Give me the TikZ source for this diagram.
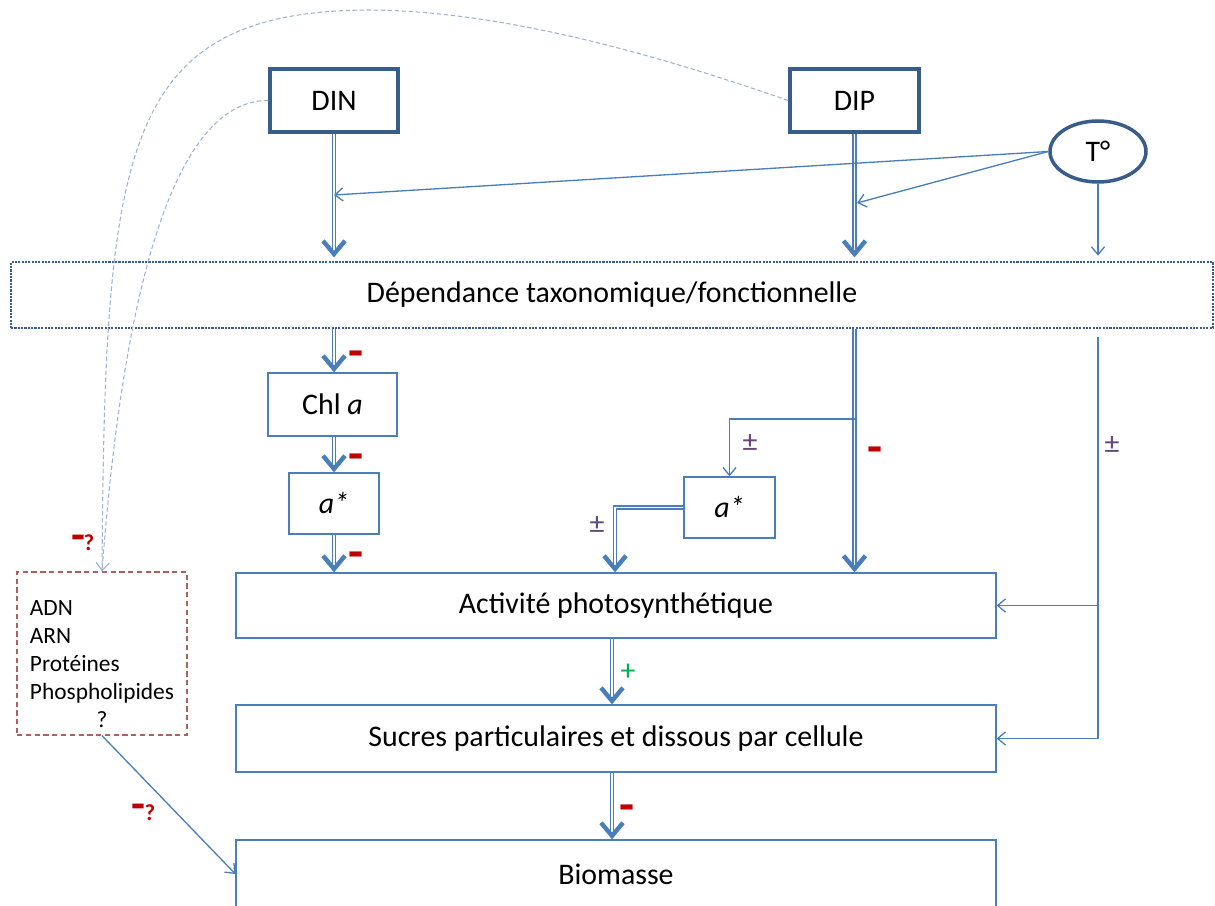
\documentclass[tikz,border=0pt]{standalone}
\usepackage{fontspec}
\setmainfont{Carlito}
\usetikzlibrary{arrows.meta,shapes.geometric,decorations.markings,calc}
\definecolor{dkblue}{HTML}{385D8A}
\definecolor{ln}{HTML}{4A7EBB}
\definecolor{curv}{HTML}{9FB2D2}
\definecolor{rbox}{HTML}{B0605C}
\definecolor{sred}{HTML}{C00000}
\definecolor{spurp}{HTML}{604A7B}
\definecolor{sgreen}{HTML}{00B050}
\begin{document}
\begin{tikzpicture}[x=0.02cm,y=-0.02cm,
  mainfont/.style={font=\fontsize{17}{20}\selectfont},
  thickbox/.style={draw=dkblue,line width=2pt,fill=white,inner sep=0pt,mainfont},
  thinbox/.style={draw=ln,line width=0.75pt,fill=white,inner sep=0pt,mainfont},
  dbl/.style={draw=ln,line width=0.6pt,double=white,double distance=1.1pt,shorten >=1.5pt},
  bigtip/.style={postaction={decorate,decoration={markings,mark=at position 1 with {\arrow[ln]{Straight Barb[length=7.5pt,width=12.5pt,line width=2.5pt]}}}}},
  thinln/.style={draw=ln,line width=0.75pt},
  opentip/.style={-{Straight Barb[length=4.5pt,width=7.5pt,line width=0.75pt]}},
  dashcurve/.style={draw=curv,line width=0.6pt,dash pattern=on 2.5pt off 1.5pt},
  minussign/.style={text=sred,font=\fontsize{28}{28}\bfseries\selectfont,inner sep=0pt},
  smallminus/.style={text=sred,font=\fontsize{26}{26}\bfseries\selectfont,inner sep=0pt},
  qsign/.style={text=sred,font=\fontsize{13}{13}\bfseries\selectfont,inner sep=0pt},
  pmsign/.style={text=spurp,font=\fontsize{17}{17}\selectfont,inner sep=0pt},
  plussign/.style={text=sgreen,font=\fontsize{17}{17}\selectfont,inner sep=0pt}
]
\useasboundingbox (0,0) rectangle (1215,906);
\fill[white] (0,0) rectangle (1215,906);

% helper coordinates
\coordinate (dinT) at (334,195);
\coordinate (dipT) at (857,203);
\coordinate (brY) at (0,419);
\coordinate (amx) at (615,0);
\coordinate (midx) at (612,0);
\coordinate (rY) at (0,337);

% nodes
\node[thickbox,minimum width=2.56cm,minimum height=1.26cm] (din) at (334,100.5) {DIN};
\node[thickbox,minimum width=2.58cm,minimum height=1.26cm] (dip) at (854.5,100.5) {DIP};
\node[ellipse,draw=dkblue,line width=2pt,fill=white,minimum width=1.92cm,minimum height=1.22cm,inner sep=0pt,mainfont] (temp) at (1098,151.5) {T°};
\node[draw=dkblue,line width=1.2pt,dash pattern=on 1.2pt off 0.7pt,minimum width=24.04cm,minimum height=1.32cm,inner sep=0pt,mainfont] (dep) at (612,295) {Dépendance taxonomique/fonctionnelle};
\node[thinbox,minimum width=2.58cm,minimum height=1.26cm] (chl) at (332.5,404.5) {Chl \textit{a}};
\node[thinbox,minimum width=1.8cm,minimum height=1.22cm] (asl) at (334,503.5) {\textit{a*}};
\node[thinbox,minimum width=1.82cm,minimum height=1.22cm] (asm) at (729.5,507.5) {\textit{a*}};
\node[thinbox,minimum width=15.2cm,minimum height=1.3cm] (act) at (616,605.5) {Activité photosynthétique};
\node[thinbox,minimum width=15.2cm,minimum height=1.34cm] (suc) at (616,738.5) {Sucres particulaires et dissous par cellule};
\node[thinbox,minimum width=15.2cm,minimum height=1.36cm] (bio) at (616,874) {Biomasse};
\node[draw=rbox,line width=0.75pt,dash pattern=on 3pt off 2pt,minimum width=3.4cm,minimum height=3.26cm,inner sep=0pt] (lbox) at (102,653.5) {};
\node[inner sep=0pt,font=\fontsize{13.3}{16}\selectfont] (ltext) at (102,666) {\begin{tabular}{@{}l@{}}ADN\\ARN\\Protéines\\Phospholipides\\\multicolumn{1}{@{}c@{}}{?}\end{tabular}};

% dashed curves to left box
\draw[dashcurve] (dip.west) .. controls (700,70) and (520,10) .. (367,10) .. controls (120,12) and (105,150) .. (lbox.north);
\draw[dashcurve,-{Straight Barb[length=4.5pt,width=7.5pt,line width=0.6pt]}] (din.west) .. controls (200,100) and (130,200) .. (lbox.north);

% top arrows
\draw[dbl,bigtip] (din.south) -- ([yshift=2pt]din.south |- dep.north);
\draw[dbl,bigtip] (dip.south) -- ([yshift=2pt]dip.south |- dep.north);
\draw[thinln,opentip] (temp.west) -- (dinT);
\draw[thinln,opentip] (temp.west) -- (dipT);
\draw[thinln,opentip] (temp.south) -- ([yshift=3pt]temp.south |- dep.north);

% left column
\draw[dbl,bigtip] (din.south |- dep.south) -- (din.south |- chl.north);
\draw[dbl,bigtip] (din.south |- chl.south) -- (din.south |- asl.north);
\draw[dbl,bigtip] (asl.south) -- (asl.south |- act.north);

% DIP column
\draw[dbl,bigtip] (dip.south |- dep.south) -- (dip.south |- act.north);
\draw[thinln,opentip] (dip.south |- brY) -| (asm.north);
\draw[dbl,bigtip] (asm.west) -| (amx |- act.north);

% right column
\draw[thinln,opentip] (temp.south |- rY) |- (suc.east);
\draw[thinln,opentip] (temp.south |- act.east) -- (act.east);

% central chain
\draw[dbl,bigtip] (midx |- act.south) -- (midx |- suc.north);
\draw[dbl,bigtip] (midx |- suc.south) -- (midx |- bio.north);

% left box to biomass
\draw[thinln,opentip] (lbox.south) -- (bio.west);

% signs
\node[minussign] (m1) at (356,359) {-};
\node[minussign] (m2) at (356,462) {-};
\node[minussign] (m3) at (356,560) {-};
\node[minussign] (m4) at (875,455) {-};
\node[minussign] (m5) at (627,813) {-};
\node[plussign] (p1) at (628,672) {+};
\node[pmsign] (pm1) at (750,443) {±};
\node[pmsign] (pm2) at (597,525) {±};
\node[pmsign] (pm3) at (1112,445) {±};
\node[smallminus] (mq1) at (78,543) {-};
\node[qsign] (q1) at (89,543) {?};
\node[smallminus] (mq2) at (138,812) {-};
\node[qsign] (q2) at (150,813) {?};
\end{tikzpicture}
\end{document}
